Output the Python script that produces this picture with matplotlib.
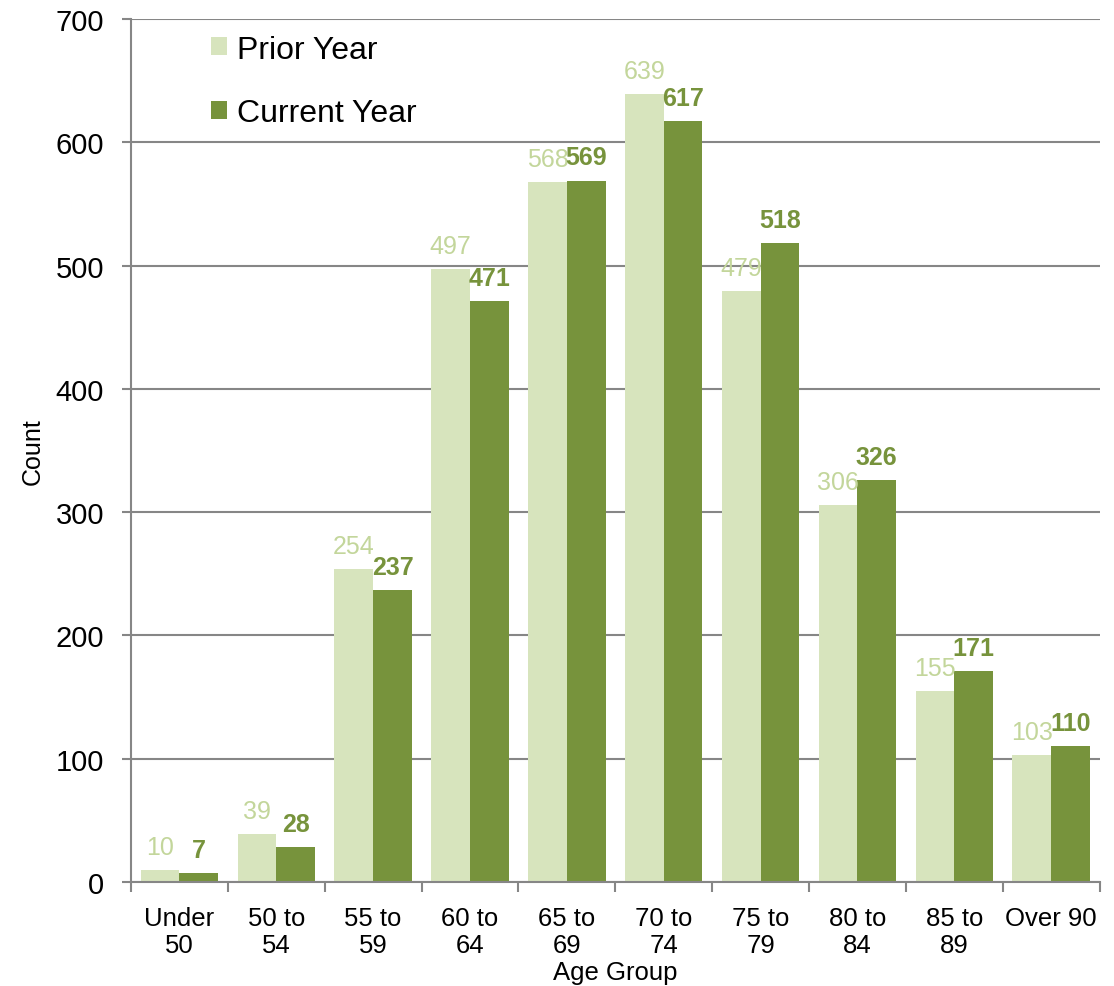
import numpy as np
import matplotlib.pyplot as plt

plt.rcParams['font.family'] = ['Liberation Sans', 'DejaVu Sans']

groups = ['Under\n50', '50 to\n54', '55 to\n59', '60 to\n64', '65 to\n69',
          '70 to\n74', '75 to\n79', '80 to\n84', '85 to\n89', 'Over 90']
prior = [10, 39, 254, 497, 568, 639, 479, 306, 155, 103]
current = [7, 28, 237, 471, 569, 617, 518, 326, 171, 110]

light = '#d7e4bd'
dark = '#77933c'
grid_col = '#868686'

fig = plt.figure(figsize=(11.14, 9.87), dpi=100)
ax = fig.add_axes([0.1176, 0.1054, 0.8694, 0.8743])

x = np.arange(len(groups))
w = 0.4
b1 = ax.bar(x - w / 2, prior, w, color=light, label='Prior Year', zorder=2)
b2 = ax.bar(x + w / 2, current, w, color=dark, label='Current Year', zorder=2)

ax.bar_label(b1, padding=8, fontsize=18, color='#c3d69b')
ax.bar_label(b2, padding=8, fontsize=18, color=dark, fontweight='bold')

ax.set_xlim(-0.5, len(groups) - 0.5)
ax.set_ylim(0, 700)
ax.set_yticks(range(0, 701, 100))
ax.yaxis.grid(True, color=grid_col, linewidth=1.5, zorder=0)
ax.set_axisbelow(True)

ax.set_xticks(x)
ax.set_xticklabels(groups, fontsize=18.5, linespacing=1.2)
ax.tick_params(axis='x', length=0, pad=17)
ax.set_xticks(np.arange(-0.5, len(groups)), minor=True)
ax.tick_params(axis='x', which='minor', length=7, width=1.5, color=grid_col)
ax.tick_params(axis='y', labelsize=21, length=6.5, width=1.5, color=grid_col,
               direction='out', pad=13)

for s in ['top', 'right']:
    ax.spines[s].set_visible(False)
for s in ['left', 'bottom']:
    ax.spines[s].set_color(grid_col)
    ax.spines[s].set_linewidth(1.5)

ax.set_ylabel('Count', fontsize=18, labelpad=8)
ax.set_xlabel('Age Group', fontsize=18.5, labelpad=2)

ax.legend(loc='upper left', bbox_to_anchor=(0.0826, 0.982), frameon=False, fontsize=23,
          borderpad=0, borderaxespad=0,
          handlelength=0.5, handleheight=0.5, handletextpad=0.3, labelspacing=1.05)

fig.savefig('out.png', dpi=100)
